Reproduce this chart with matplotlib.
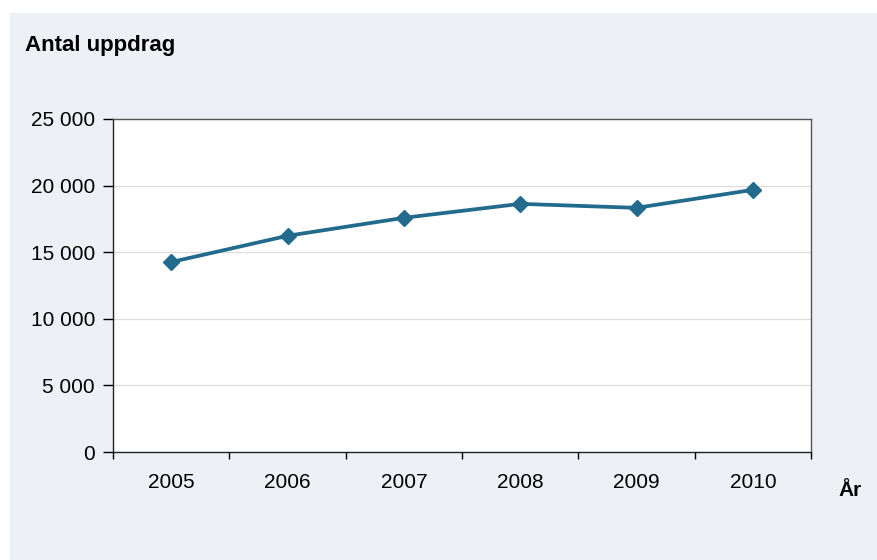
import matplotlib.pyplot as plt
import matplotlib.ticker as mtick
from matplotlib.patches import Rectangle

plt.rcParams["font.family"] = ["Liberation Sans", "DejaVu Sans"]

years = ["2005", "2006", "2007", "2008", "2009", "2010"]
assignments = [14260, 16230, 17580, 18630, 18330, 19680]

LINE = "#226b8c"
PANEL = "#edf0f5"

fig = plt.figure(figsize=(8.77, 5.6), dpi=100)
fig.patch.set_facecolor("white")
# light panel behind the chart
fig.patches.append(Rectangle((10 / 877, 0), 1 - 10 / 877, 1 - 13 / 560,
                             transform=fig.transFigure, facecolor=PANEL,
                             edgecolor="none", zorder=-10))

ax = fig.add_axes([113 / 877, 108 / 560, 698 / 877, 333 / 560])
ax.set_facecolor("white")

x = [i + 0.5 for i in range(len(years))]
ax.plot(x, assignments, color=LINE, lw=2.7, marker="D", ms=8.5, zorder=3)

ax.set_xlim(0, len(years))
ax.set_ylim(0, 25000)
ax.set_xticks(range(len(years) + 1))
ax.set_xticklabels([])
ax.set_xticks(x, minor=True)
ax.set_xticklabels(years, minor=True)
ax.tick_params(axis="x", which="major", length=5, width=1, direction="out")
ax.tick_params(axis="x", which="minor", length=0, pad=15, labelsize=15)

ax.set_yticks(range(0, 25001, 5000))
ax.yaxis.set_major_formatter(
    mtick.FuncFormatter(lambda v, _: f"{int(v):,}".replace(",", " ")))
ax.tick_params(axis="y", length=7, width=1, pad=6, labelsize=15)

ax.grid(axis="y", color="#dedede", lw=0.9, zorder=0)
ax.set_axisbelow(True)
for s in ax.spines.values():
    s.set_color("#222222")
    s.set_linewidth(1.0)
ax.spines[["top", "right"]].set_color("#555555")

fig.text(25 / 877, 1 - 45 / 560, "Antal uppdrag", fontsize=16, fontweight="bold",
         va="center", ha="left")
fig.text(850 / 877, 1 - 490 / 560, "År", fontsize=15, fontweight="bold",
         va="center", ha="center")

plt.savefig("out.png", dpi=100)
